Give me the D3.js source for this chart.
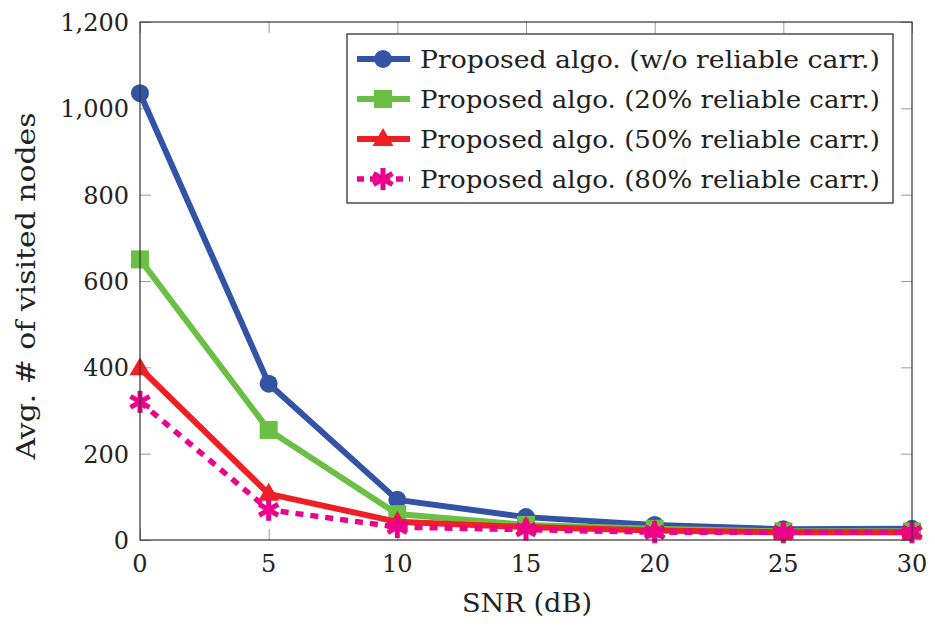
<!DOCTYPE html>
<html>
<head>
<meta charset="utf-8">
<script src="https://cdn.jsdelivr.net/npm/d3@7"></script>
<style>
  html, body { margin: 0; padding: 0; background: #fff; }
  svg { display: block; }
</style>
</head>
<body>
<svg id="chart" width="935" height="626"></svg>
<script>
// SNR values on the x axis
const snr = [0, 5, 10, 15, 20, 25, 30];

// Average number of visited nodes per configuration
const noReliable = [1035, 362, 93, 53, 35, 25, 26];
const reliable20 = [650, 255, 60, 35, 26, 20, 20];
const reliable50 = [398, 107, 42, 30, 22, 18, 18];
const reliable80 = [320, 70, 30, 24, 18, 18, 18];

const xTicks = [0, 5, 10, 15, 20, 25, 30];
const yTicks = [0, 200, 400, 600, 800, 1000, 1200];

const seriesNames = [
  "Proposed algo. (w/o reliable carr.)",
  "Proposed algo. (20% reliable carr.)",
  "Proposed algo. (50% reliable carr.)",
  "Proposed algo. (80% reliable carr.)"
];

const series = [
  { name: seriesNames[0], values: noReliable, color: "#3353a4", marker: "circle", dash: null },
  { name: seriesNames[1], values: reliable20, color: "#6bbf45", marker: "square", dash: null },
  { name: seriesNames[2], values: reliable50, color: "#ee2025", marker: "triangle", dash: null },
  { name: seriesNames[3], values: reliable80, color: "#ec008c", marker: "asterisk", dash: "8,7" }
];

const FONT = "'DejaVu Serif', 'Liberation Serif', serif";

const svg = d3.select("#chart");
const margin = { left: 140, right: 23, top: 22, bottom: 86 };
const W = 935, H = 626;
const x = d3.scaleLinear().domain([0, 30]).range([margin.left, W - margin.right]);
const y = d3.scaleLinear().domain([0, 1200]).range([H - margin.bottom, margin.top]);

const tickLen = 11;
const tickColor = "#9a9a9a";

// inward ticks on all four sides
const g = svg.append("g");
g.append("g").attr("transform", `translate(0,${y(0)})`)
  .call(d3.axisBottom(x).tickValues(xTicks).tickSize(-tickLen).tickFormat(""))
  .call(a => a.select(".domain").remove())
  .call(a => a.selectAll("line").attr("stroke", tickColor));
g.append("g").attr("transform", `translate(0,${y(1200)})`)
  .call(d3.axisTop(x).tickValues(xTicks).tickSize(-tickLen).tickFormat(""))
  .call(a => a.select(".domain").remove())
  .call(a => a.selectAll("line").attr("stroke", tickColor));
g.append("g").attr("transform", `translate(${x(0)},0)`)
  .call(d3.axisLeft(y).tickValues(yTicks).tickSize(-tickLen).tickFormat(""))
  .call(a => a.select(".domain").remove())
  .call(a => a.selectAll("line").attr("stroke", tickColor));
g.append("g").attr("transform", `translate(${x(30)},0)`)
  .call(d3.axisRight(y).tickValues(yTicks).tickSize(-tickLen).tickFormat(""))
  .call(a => a.select(".domain").remove())
  .call(a => a.selectAll("line").attr("stroke", tickColor));

// tick labels
const fmt = d3.format(",");
svg.append("g").selectAll("text").data(xTicks).join("text")
  .attr("x", d => x(d)).attr("y", y(0) + 32)
  .attr("text-anchor", "middle").attr("font-size", 24)
  .attr("font-family", FONT).attr("fill", "#222")
  .text(d => d);
svg.append("g").selectAll("text").data(yTicks).join("text")
  .attr("x", x(0) - 11).attr("y", d => y(d) + 9)
  .attr("text-anchor", "end").attr("font-size", 24)
  .attr("font-family", FONT).attr("fill", "#222")
  .text(d => fmt(d));

// axis titles
svg.append("text").attr("x", 527).attr("y", 612)
  .attr("text-anchor", "middle").attr("font-size", 26)
  .attr("font-family", FONT).attr("fill", "#222")
  .attr("textLength", 130).attr("lengthAdjust", "spacingAndGlyphs")
  .text("SNR (dB)");
svg.append("text")
  .attr("transform", "translate(35,286) rotate(-90)")
  .attr("text-anchor", "middle").attr("font-size", 26)
  .attr("font-family", FONT).attr("fill", "#222")
  .attr("textLength", 347).attr("lengthAdjust", "spacingAndGlyphs")
  .text("Avg. # of visited nodes");

// marker drawing
function drawMarker(sel, type, color) {
  if (type === "circle") {
    sel.append("circle").attr("r", 9).attr("fill", color);
  } else if (type === "square") {
    sel.append("rect").attr("x", -9).attr("y", -9).attr("width", 18).attr("height", 18).attr("fill", color);
  } else if (type === "triangle") {
    sel.append("path").attr("d", "M0,-11 L10.5,7 L-10.5,7 Z").attr("fill", color);
  } else if (type === "asterisk") {
    const r = 11;
    [90, 30, -30].forEach(a => {
      const t = a * Math.PI / 180;
      sel.append("line")
        .attr("x1", -r * Math.cos(t)).attr("y1", -r * Math.sin(t))
        .attr("x2", r * Math.cos(t)).attr("y2", r * Math.sin(t))
        .attr("stroke", color).attr("stroke-width", 5);
    });
  }
}

const line = d3.line().x(d => x(d[0])).y(d => y(d[1]));

series.forEach(s => {
  const pts = snr.map((v, i) => [v, s.values[i]]);
  svg.append("path").datum(pts)
    .attr("d", line).attr("fill", "none")
    .attr("stroke", s.color).attr("stroke-width", s.dash ? 5.5 : 6)
    .attr("stroke-linejoin", "round")
    .attr("stroke-dasharray", s.dash);
  svg.append("g").selectAll("g").data(pts).join("g")
    .attr("transform", d => `translate(${x(d[0])},${y(d[1])})`)
    .each(function () { drawMarker(d3.select(this), s.marker, s.color); });
});

// plot frame
svg.append("rect")
  .attr("x", x(0)).attr("y", y(1200))
  .attr("width", x(30) - x(0)).attr("height", y(0) - y(1200))
  .attr("fill", "none").attr("stroke", "#333").attr("stroke-width", 1.2);

// legend
const lg = svg.append("g");
lg.append("rect").attr("x", 347).attr("y", 34).attr("width", 546).attr("height", 169)
  .attr("fill", "#fff").attr("stroke", "#222").attr("stroke-width", 1.2);
series.forEach((s, i) => {
  const cy = 59 + i * 40;
  lg.append("line").attr("x1", 357).attr("x2", 410).attr("y1", cy).attr("y2", cy)
    .attr("stroke", s.color).attr("stroke-width", s.dash ? 5.5 : 6)
    .attr("stroke-dasharray", s.dash ? "7,6" : null);
  const m = lg.append("g").attr("transform", `translate(383,${cy})`);
  drawMarker(m, s.marker, s.color);
  lg.append("text").attr("x", 420).attr("y", cy + 9).attr("font-size", 25)
    .attr("font-family", FONT).attr("fill", "#222")
    .attr("textLength", 460).attr("lengthAdjust", "spacingAndGlyphs")
    .text(s.name);
});
</script>
</body>
</html>
